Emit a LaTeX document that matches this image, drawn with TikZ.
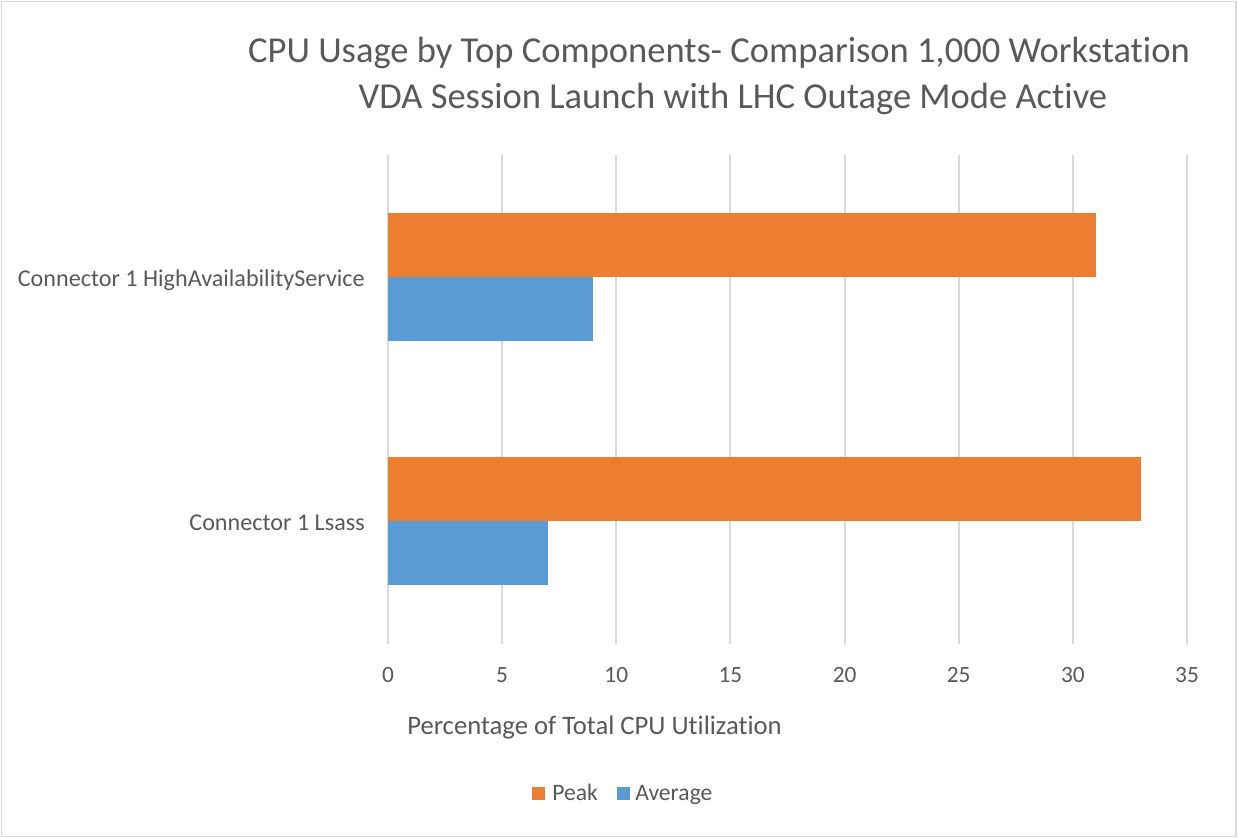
\documentclass[tikz,border=0pt]{standalone}
\usepackage{fontspec}
\setmainfont{Carlito}[Ligatures=NoCommon]
\definecolor{peak}{HTML}{ED7D31}
\definecolor{avg}{HTML}{5B9BD5}
\definecolor{grid}{HTML}{D9D9D9}
\definecolor{txt}{HTML}{595959}
\tikzset{
  gridline/.style={draw=grid, line width=1.5pt},
  ticklab/.style={text=txt, font=\fontsize{17.5}{20}\selectfont, anchor=base, inner sep=0pt},
  catlab/.style={text=txt, font=\fontsize{18.1}{22}\selectfont, anchor=base east, inner sep=0pt},
  titlelab/.style={text=txt, font=\fontsize{27.4}{32}\selectfont, anchor=base, inner sep=0pt},
  axlab/.style={text=txt, font=\fontsize{20}{24}\selectfont, anchor=base, inner sep=0pt},
  leglab/.style={text=txt, font=\fontsize{17.7}{21}\selectfont, anchor=base west, inner sep=0pt},
}
\begin{document}
\begin{tikzpicture}[x=0.75pt,y=-0.75pt]
\useasboundingbox (0,0) rectangle (1238,838);
\fill[white] (0,0) rectangle (1238,838);
\draw[draw=grid, line width=1.2pt] (1.5,1.5) rectangle (1236,836.5);
% gridlines
\foreach \v in {0,5,...,35}{
  \draw[gridline] ({388+\v*22.829},155) -- ({388+\v*22.829},644);
  \node[ticklab] (t\v) at ({388+\v*22.829},682) {\v};
}
% bars
\fill[peak] (388,213) rectangle ({388+31*22.829},277);
\fill[avg] (388,277) rectangle ({388+9*22.829},341);
\fill[peak] (388,457) rectangle ({388+33*22.829},521);
\fill[avg] (388,521) rectangle ({388+7*22.829},585);
% category labels
\node[catlab] (c1) at (365,286) {Connector 1 HighAvailabilityService};
\node[catlab] (c2) at (365,530) {Connector 1 Lsass};
% title
\node[titlelab] (ti1) at (719,63) {CPU Usage by Top Components- Comparison 1,000 Workstation};
\node[titlelab] (ti2) at (733,109) {VDA Session Launch with LHC Outage Mode Active};
% axis title
\node[axlab] (ax) at (594.5,734) {Percentage of Total CPU Utilization};
% legend
\fill[peak] (532,787) rectangle (545,800);
\node[leglab] (lp) at (552,800) {Peak};
\fill[avg] (617,787) rectangle (630,800);
\node[leglab] (la) at (635,800) {Average};
\end{tikzpicture}
\end{document}
